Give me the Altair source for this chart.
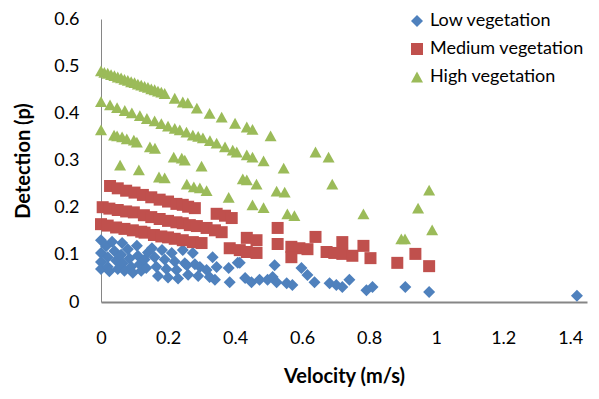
import altair as alt
import pandas as pd

series_names = ["Low vegetation", "Medium vegetation", "High vegetation"]
series_colors = ["#4F81BD", "#C0504D", "#9BBB59"]
series_shapes = ["diamond", "square", "M-1,0.9L0,-0.9L1,0.9Z"]

x_ticks = [0, 0.2, 0.4, 0.6, 0.8, 1, 1.2, 1.4]
y_ticks = [0, 0.1, 0.2, 0.3, 0.4, 0.5, 0.6]

low_v = [0, 0, 0, 0, 0.015, 0.02, 0.02, 0.025, 0.033, 0.04, 0.045, 0.05,
         0.063, 0.06, 0.065, 0.07, 0.08, 0.085, 0.09, 0.095, 0.107, 0.11, 0.115, 0.12,
         0.13, 0.135, 0.14, 0.152, 0.16, 0.165, 0.17, 0.182, 0.19, 0.195, 0.2,
         0.211, 0.22, 0.225, 0.23, 0.244, 0.25, 0.256, 0.26, 0.274, 0.28, 0.295, 0.29,
         0.315, 0.324, 0.333, 0.34, 0.345, 0.381, 0.384, 0.408, 0.414, 0.43, 0.449,
         0.473, 0.497, 0.512, 0.518, 0.524, 0.554, 0.571, 0.598, 0.616, 0.637,
         0.682, 0.702, 0.72, 0.741, 0.792, 0.81, 0.908, 0.979, 1.42]
low_p = [0.131, 0.104, 0.085, 0.070, 0.118, 0.095, 0.075, 0.065, 0.128, 0.108, 0.088, 0.070,
         0.125, 0.100, 0.082, 0.066, 0.112, 0.092, 0.075, 0.062, 0.119, 0.098, 0.080, 0.066,
         0.090, 0.072, 0.105, 0.114, 0.095, 0.075, 0.055, 0.110, 0.090, 0.070, 0.052,
         0.104, 0.086, 0.068, 0.050, 0.110, 0.082, 0.078, 0.058, 0.104, 0.080, 0.074, 0.055,
         0.068, 0.053, 0.095, 0.047, 0.074, 0.072, 0.042, 0.083, 0.083, 0.051, 0.042,
         0.047, 0.047, 0.053, 0.078, 0.042, 0.040, 0.036, 0.072, 0.057, 0.042,
         0.040, 0.036, 0.032, 0.047, 0.025, 0.032, 0.032, 0.021, 0.013]

med_v = [0.027, 0.05, 0.075, 0.1, 0.125, 0.15, 0.175, 0.2, 0.225, 0.244, 0.26, 0.28,
         0.345, 0.37, 0.39,
         0.005, 0.025, 0.05, 0.075, 0.098, 0.128, 0.15, 0.175, 0.2, 0.225, 0.244, 0.265,
         0.286, 0.315, 0.34, 0.36,
         0, 0.02, 0.045, 0.07, 0.095, 0.12, 0.13, 0.158, 0.18, 0.2, 0.22, 0.244, 0.274, 0.3,
         0.384, 0.414,
         0.435, 0.464, 0.435, 0.464, 0.527, 0.527, 0.568, 0.592, 0.616, 0.568, 0.64,
         0.673, 0.696, 0.72, 0.75, 0.72, 0.783, 0.804, 0.884, 0.938, 0.979]
med_p = [0.246, 0.241, 0.236, 0.232, 0.227, 0.222, 0.217, 0.213, 0.208, 0.206, 0.202, 0.199,
         0.187, 0.183, 0.178,
         0.201, 0.198, 0.195, 0.192, 0.190, 0.184, 0.180, 0.176, 0.172, 0.169, 0.167, 0.163,
         0.161, 0.157, 0.152, 0.148,
         0.165, 0.162, 0.158, 0.155, 0.152, 0.149, 0.147, 0.142, 0.139, 0.137, 0.134, 0.131, 0.127, 0.125,
         0.114, 0.110,
         0.136, 0.131, 0.106, 0.104, 0.157, 0.123, 0.117, 0.114, 0.112, 0.095, 0.138,
         0.106, 0.104, 0.102, 0.098, 0.127, 0.119, 0.093, 0.083, 0.102, 0.076]

high_v = [0, 0.01, 0.02, 0.03, 0.04, 0.05, 0.06, 0.07, 0.08, 0.09, 0.10, 0.11, 0.12, 0.13,
          0.14, 0.15, 0.16, 0.17, 0.18, 0.19, 0.22, 0.244, 0.259, 0.286, 0.324, 0.36, 0.40,
          0.435, 0.452, 0.506,
          0, 0.027, 0.048, 0.071, 0.092, 0.116, 0.137, 0.16, 0.18, 0.2, 0.22, 0.235, 0.255,
          0.274, 0.29, 0.304, 0.325, 0.345, 0.37, 0.393, 0.405, 0.435, 0.452, 0.485, 0.545,
          0.64, 0.679,
          0, 0.039, 0.048, 0.063, 0.077, 0.098, 0.107, 0.146, 0.161, 0.217, 0.241, 0.25, 0.30,
          0.423, 0.435, 0.464, 0.524, 0.548, 0.69,
          0.057, 0.113, 0.173, 0.19, 0.256, 0.277, 0.295, 0.315, 0.381, 0.452, 0.485, 0.556,
          0.577, 0.783, 0.896, 0.907, 0.946, 0.979, 0.988]
high_p = [0.490, 0.487, 0.485, 0.482, 0.480, 0.477, 0.475, 0.472, 0.470, 0.467, 0.465, 0.462,
          0.460, 0.457, 0.455, 0.452, 0.450, 0.447, 0.445, 0.442, 0.432, 0.424, 0.422, 0.411,
          0.400, 0.392, 0.379, 0.371, 0.366, 0.352,
          0.425, 0.418, 0.412, 0.406, 0.401, 0.395, 0.389, 0.384, 0.378, 0.373, 0.368, 0.365,
          0.360, 0.354, 0.351, 0.348, 0.342, 0.337, 0.329, 0.322, 0.318, 0.312, 0.307, 0.299,
          0.284, 0.318, 0.307,
          0.365, 0.354, 0.352, 0.350, 0.346, 0.343, 0.339, 0.329, 0.326, 0.307, 0.305, 0.301,
          0.288, 0.261, 0.259, 0.250, 0.235, 0.233, 0.250,
          0.290, 0.280, 0.265, 0.263, 0.250, 0.244, 0.242, 0.236, 0.222, 0.206, 0.200, 0.187,
          0.183, 0.187, 0.134, 0.134, 0.199, 0.237, 0.153]

rows = []
for name, vs, ps in zip(series_names, [low_v, med_v, high_v], [low_p, med_p, high_p]):
    for v, p in zip(vs, ps):
        rows.append({"series": name, "v": v, "p": p})
df = pd.DataFrame(rows)
df["order"] = range(len(df))

chart = alt.Chart(df).mark_point(filled=True, size=144, opacity=1, strokeWidth=0).encode(
    x=alt.X("v:Q",
            scale=alt.Scale(domain=[0, 1.45], nice=False, zero=True),
            axis=alt.Axis(values=x_ticks, format="~g", title="Velocity (m/s)",
                          labelFlush=False, labelPadding=27, titlePadding=19, domainWidth=2)),
    y=alt.Y("p:Q",
            scale=alt.Scale(domain=[0, 0.6], nice=False),
            axis=alt.Axis(values=y_ticks, format="~g", title="Detection (p)",
                          labelFlush=False, labelPadding=22, titlePadding=20, domainWidth=1)),
    color=alt.Color("series:N",
                    scale=alt.Scale(domain=series_names, range=series_colors),
                    legend=alt.Legend(orient="none", legendX=307, legendY=-7, title=None,
                                      symbolSize=144, labelFontSize=18, labelFont="Lato",
                                      labelColor="#000000", labelLimit=300, labelOffset=4,
                                      rowPadding=10, padding=0, symbolStrokeWidth=0)),
    shape=alt.Shape("series:N",
                    scale=alt.Scale(domain=series_names, range=series_shapes)),
    order=alt.Order("order:Q"),
).properties(
    width=486, height=283,
    autosize=alt.AutoSizeParams(type="none"),
    padding={"left": 93, "top": 11, "right": 4, "bottom": 89},
).configure_axis(
    grid=False, ticks=False, domainColor="#868686",
    labelFont="Lato", labelFontSize=18, labelColor="#000000",
    titleFont="Lato", titleFontSize=20, titleFontWeight="bold", titleColor="#000000",
).configure_view(strokeWidth=0)

chart.save("out.html", embed_options={"renderer": "svg", "actions": False})
